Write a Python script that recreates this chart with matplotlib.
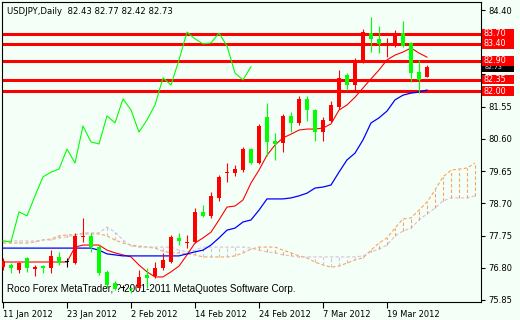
import matplotlib
matplotlib.use('Agg')
import matplotlib.pyplot as plt
import numpy as np
import pandas as pd
from matplotlib.patches import Rectangle

# daily bars, 11 Jan 2012 .. 26 Mar 2012
symbol = 'USDJPY'
timeframe = 'Daily'
dates = pd.bdate_range('2012-01-11', periods=54)
opens = [76.82, 76.88, 76.73, 77.09, 76.76, 76.85, 76.79, 77.12, 76.97, 76.94,
         77.71, 77.74, 77.41, 76.68, 76.35, 76.20, 76.20, 76.20, 76.59, 76.56,
         76.79, 76.97, 77.68, 77.53, 77.56, 78.45, 78.33, 78.86, 79.59, 79.59,
         79.68, 80.30, 79.89, 81.25, 80.54, 80.48, 81.28, 81.07, 81.78, 81.45,
         80.80, 81.13, 81.54, 82.48, 82.19, 82.87, 83.72, 83.55, 83.37, 83.34,
         83.72, 83.43, 82.57, 82.43]
highs = [77.09, 76.94, 76.97, 77.12, 76.88, 76.88, 77.32, 77.27, 77.09, 77.83,
         78.27, 77.83, 77.47, 76.73, 76.41, 76.29, 76.23, 76.73, 76.79, 76.97,
         77.24, 77.77, 77.83, 77.77, 78.56, 78.65, 79.03, 79.55, 79.89, 79.83,
         80.36, 80.33, 81.04, 81.66, 80.77, 81.33, 81.39, 81.86, 81.86, 81.48,
         81.25, 81.72, 82.63, 82.54, 82.99, 83.84, 84.19, 83.93, 83.57, 83.81,
         84.08, 83.46, 82.93, 82.77]
lows = [76.73, 76.65, 76.65, 76.68, 76.56, 76.65, 76.65, 76.88, 76.82, 76.91,
        77.56, 77.27, 76.59, 76.20, 76.15, 76.12, 76.06, 76.18, 76.20, 76.50,
        76.73, 76.94, 77.47, 77.38, 77.53, 78.30, 78.27, 78.77, 79.33, 79.50,
        79.62, 79.86, 79.86, 80.10, 79.98, 80.21, 80.80, 81.01, 81.13, 80.54,
        80.54, 81.10, 81.48, 82.04, 81.98, 82.84, 83.16, 83.13, 83.01, 83.31,
        83.31, 82.28, 81.95, 82.42]
closes = [77.00, 76.79, 76.94, 76.79, 76.82, 76.79, 77.15, 76.94, 76.97, 77.74,
          77.74, 77.41, 76.65, 76.29, 76.18, 76.20, 76.17, 76.53, 76.50, 76.79,
          77.03, 77.71, 77.59, 77.56, 78.45, 78.33, 78.92, 79.48, 79.62, 79.71,
          80.30, 79.89, 80.98, 80.51, 80.45, 81.28, 81.07, 81.78, 81.45, 80.80,
          81.16, 81.60, 82.40, 82.19, 82.93, 83.75, 83.55, 83.40, 83.43, 83.72,
          83.34, 82.54, 82.34, 82.73]

tenkan = [76.97, 76.97, 76.97, 76.97, 76.97, 76.97, 76.97, 76.97, 76.97, 77.41,
          77.47, 77.47, 77.47, 77.32, 77.24, 77.18, 77.12, 76.88, 76.68, 76.53,
          76.53, 76.68, 76.85, 77.18, 77.53, 77.68, 77.85, 78.21, 78.59, 78.62,
          78.80, 79.30, 79.68, 80.12, 80.42, 80.63, 80.74, 80.86, 80.89, 80.89,
          80.92, 81.04, 81.45, 81.60, 81.83, 82.10, 82.37, 82.63, 82.93, 83.07,
          83.16, 83.28, 83.13, 83.01]
kijun = [77.38, 77.38, 77.38, 77.38, 77.38, 77.38, 77.38, 77.38, 77.38, 77.38,
         77.38, 77.38, 77.32, 77.21, 77.18, 77.15, 77.15, 77.15, 77.15, 77.15,
         77.15, 77.15, 77.15, 77.21, 77.27, 77.32, 77.47, 77.68, 77.91, 77.97,
         78.15, 78.21, 78.50, 78.83, 78.83, 78.83, 78.86, 78.92, 79.00, 79.15,
         79.18, 79.24, 79.62, 79.98, 80.18, 80.57, 81.07, 81.22, 81.42, 81.75,
         81.89, 81.95, 81.98, 82.04]
span_a = [77.53, 77.53, 77.53, 77.53, 77.56, 77.62, 77.65, 77.74, 77.77, 77.77,
          77.80, 77.80, 77.80, 77.74, 77.62, 77.53, 77.47, 77.44, 77.41, 77.38,
          77.29, 77.24, 77.24, 77.21, 77.18, 77.12, 77.12, 77.12, 77.12, 77.15,
          77.24, 77.35, 77.41, 77.41, 77.41, 77.32, 77.24, 77.15, 77.09, 76.97,
          76.88, 76.82, 76.85, 76.94, 77.03, 77.09, 77.32, 77.53, 77.68, 77.97,
          78.24, 78.27, 78.50, 78.74, 79.09, 79.48, 79.68, 79.71, 79.74, 79.89]
span_b = [77.59, 77.59, 77.59, 77.59, 77.59, 77.62, 77.62, 77.68, 77.71, 77.77,
          77.83, 77.83, 77.83, 78.00, 77.85, 77.62, 77.44, 77.41, 77.41, 77.41,
          77.41, 77.41, 77.32, 77.27, 77.32, 77.41, 77.41, 77.41, 77.41, 77.41,
          77.41, 77.38, 77.32, 77.27, 77.24, 77.18, 77.15, 77.12, 77.12, 77.12,
          77.12, 77.12, 77.12, 77.12, 77.12, 77.15, 77.27, 77.35, 77.47, 77.74,
          77.88, 77.97, 78.21, 78.39, 78.56, 78.77, 78.86, 78.86, 78.86, 78.92]
chikou_shift = 22

levels = [83.70, 83.40, 82.90, 82.35, 82.00]
yticks = [75.85, 76.80, 77.75, 78.70, 79.65, 80.60, 81.55, 82.50, 83.45, 84.40]
# these two scale labels sit under the level boxes and do not show
hidden_ticks = [82.50, 83.45]

bg = '#F4FFF8'
fig = plt.figure(figsize=(5.2, 3.2), dpi=100, facecolor=bg)
ax = fig.add_axes([2 / 520, 18 / 320, 479 / 520, 300 / 320], facecolor=bg)

x = np.arange(len(closes))
o = np.array(opens); h = np.array(highs); l = np.array(lows); c = np.array(closes)

# ichimoku cloud
xc = np.arange(len(span_a))
a = np.array(span_a); b = np.array(span_b)
dash = (0, (3, 2))
ax.plot(xc, a, color='#F4A460', lw=0.8, ls=dash, zorder=1)
ax.plot(xc, b, color='#D8BFD8', lw=0.8, ls=dash, zorder=1)
vcol = np.where(a >= b, '#F4A460', '#D8BFD8')
ax.vlines(xc, np.minimum(a, b), np.maximum(a, b), colors=vcol, lw=0.8,
          linestyles=dash, zorder=1)

# horizontal levels
for lv in levels:
    ax.axhline(lv, color='#FF0000', lw=2.2, zorder=2)

# tenkan / kijun / chikou
ax.plot(x[:-chikou_shift], c[chikou_shift:], color='#00FF00', lw=0.8, zorder=3)
ax.plot(x, tenkan, color='#FF0000', lw=0.8, zorder=3)
ax.plot(x, kijun, color='#0000FF', lw=0.9, zorder=3)

# candles: red = up, lime = down, black = doji
cols = np.where(c > o, '#FF0000', np.where(c < o, '#00FF00', '#000000'))
ax.vlines(x, l, h, colors=cols, lw=0.8, zorder=4)
body = np.abs(c - o)
ax.bar(x, np.maximum(body, 0.02), width=0.62, bottom=np.minimum(o, c),
       color=cols, linewidth=0, zorder=5)

ax.set_xlim(-0.125, 59.75)
ax.set_ylim(75.791, 84.636)

for s in ax.spines.values():
    s.set_color('black')
    s.set_linewidth(0.8)

ax.yaxis.tick_right()
ax.set_yticks(yticks)
ax.set_yticklabels(['' if v in hidden_ticks else f'{v:.2f}' for v in yticks])
ax.tick_params(axis='y', length=3, width=0.8, pad=2, labelsize=6, colors='black')

tick_idx = list(range(0, len(dates), 8))
ax.set_xticks(tick_idx)
ax.set_xticklabels([f'{dates[i].day} {dates[i]:%b %Y}' for i in tick_idx])
ax.tick_params(axis='x', length=4, width=0.8, pad=2, labelsize=6, colors='black')
for lbl in ax.get_xticklabels():
    lbl.set_ha('left')

# price labels on the right
tr = ax.get_yaxis_transform()
box_h = 0.29
ax.add_patch(Rectangle((1.002, closes[-1] - box_h / 2), 0.066, box_h,
                       transform=tr, facecolor='black', clip_on=False, zorder=10))
ax.text(1.008, closes[-1] - 0.02, f'{closes[-1]:.2f}', transform=tr, color='white',
        fontsize=4.6, va='center', ha='left', clip_on=False, zorder=11)
for lv in levels:
    ax.add_patch(Rectangle((1.002, lv - box_h / 2), 0.066, box_h, transform=tr,
                           facecolor='#FF0000', clip_on=False, zorder=12))
    ax.text(1.006, lv, f'{lv:.2f}', transform=tr, color='white', fontsize=5.8,
            va='center', ha='left', clip_on=False, zorder=13)

title = f'{symbol},{timeframe}  {opens[-1]:.2f} {highs[-1]:.2f} {lows[-1]:.2f} {closes[-1]:.2f}'
ax.text(0.011, 0.983, title, transform=ax.transAxes, fontsize=6.1,
        va='top', ha='left', color='black')
ax.text(0.011, 0.025, 'Roco Forex MetaTrader, ? 2001-2011 MetaQuotes Software Corp.',
        transform=ax.transAxes, fontsize=7.1, family='Liberation Sans',
        va='bottom', ha='left', color='black')

fig.savefig('out.png', dpi=100, facecolor=bg)
